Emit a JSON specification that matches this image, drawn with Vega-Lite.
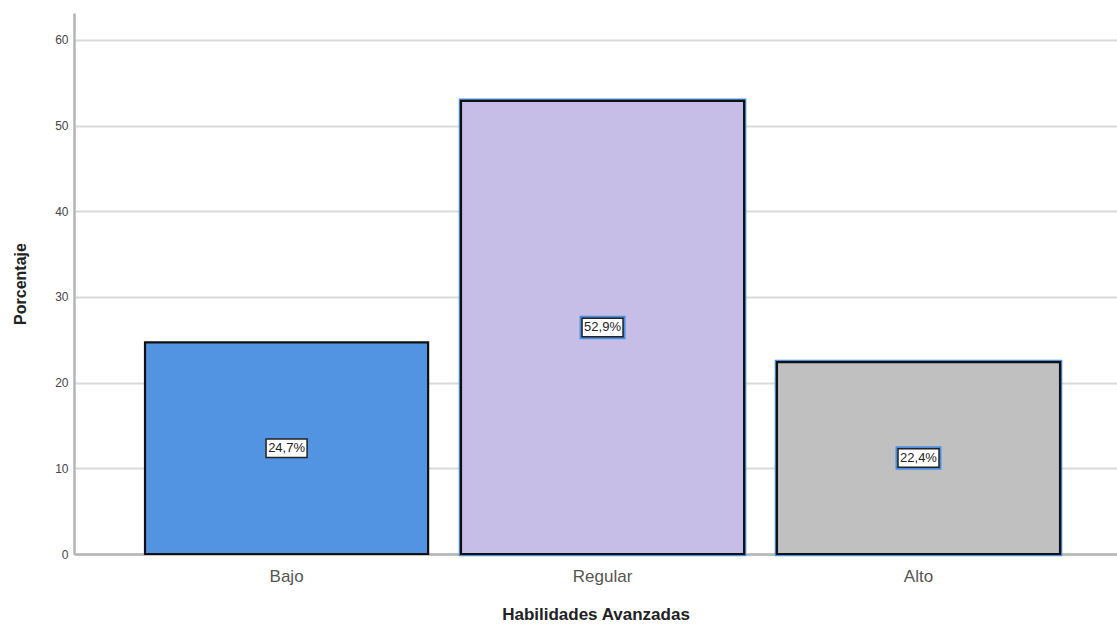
{
  "$schema": "https://vega.github.io/schema/vega-lite/v6.json",
  "autosize": {"type": "none"},
  "padding": {"left": 74, "top": 13, "right": 0, "bottom": 76},
  "width": 1043,
  "height": 541,
  "background": "white",
  "config": {"view": {"stroke": null}, "font": "Liberation Sans"},
  "data": {"values": [
    {"cat": "Bajo", "pct": 24.7, "label": "24,7%", "sel": "no"},
    {"cat": "Regular", "pct": 52.9, "label": "52,9%", "sel": "yes"},
    {"cat": "Alto", "pct": 22.4, "label": "22,4%", "sel": "yes"}
  ]},
  "transform": [{"calculate": "datum.pct / 2", "as": "mid"}],
  "encoding": {
    "x": {
      "field": "cat", "type": "nominal", "sort": ["Bajo", "Regular", "Alto"],
      "scale": {"paddingInner": 0.104, "paddingOuter": 0.2025, "align": 0.555},
      "axis": {
        "title": "Habilidades Avanzadas", "titleFontSize": 17, "titleFontWeight": "bold",
        "titleColor": "#222222", "titlePadding": 22,
        "labelAngle": 0, "labelFontSize": 17, "labelColor": "#555555", "labelPadding": 14,
        "ticks": false, "domainColor": "#b5b5b5", "domainWidth": 2.5
      }
    }
  },
  "layer": [
    {
      "mark": {"type": "bar", "stroke": "#4a8fe0", "strokeWidth": 4.5, "fill": null},
      "transform": [{"filter": "datum.sel == 'yes'"}],
      "encoding": {
        "y": {"field": "pct", "type": "quantitative"}
      }
    },
    {
      "mark": {"type": "bar", "stroke": "#111111", "strokeWidth": 2.2},
      "encoding": {
        "y": {
          "field": "pct", "type": "quantitative",
          "scale": {"domain": [0, 63.15], "nice": false, "zero": true},
          "axis": {
            "title": "Porcentaje", "titleFontSize": 16, "titleFontWeight": "bold",
            "titleColor": "#222222", "titlePadding": 26,
            "values": [0, 10, 20, 30, 40, 50, 60],
            "labelFontSize": 12, "labelColor": "#444444", "labelPadding": 6,
            "ticks": false, "domainColor": "#b5b5b5", "domainWidth": 2.5,
            "grid": true, "gridColor": "#d9d9d9", "gridWidth": 2
          }
        },
        "color": {
          "field": "cat", "type": "nominal", "legend": null,
          "scale": {"domain": ["Bajo", "Regular", "Alto"], "range": ["#5294e2", "#c6bee6", "#c0c0c0"]}
        }
      }
    },
    {
      "mark": {"type": "point", "shape": "M-1,-0.45H1V0.45H-1Z", "size": 1681, "filled": false, "stroke": "#4a8fe0", "strokeWidth": 5, "opacity": 1},
      "transform": [{"filter": "datum.sel == 'yes'"}],
      "encoding": {
        "y": {"field": "mid", "type": "quantitative"}
      }
    },
    {
      "mark": {"type": "point", "shape": "M-1,-0.45H1V0.45H-1Z", "size": 1681, "filled": true, "fill": "white", "stroke": "#222222", "strokeWidth": 1.5, "opacity": 1},
      "encoding": {
        "y": {"field": "mid", "type": "quantitative"}
      }
    },
    {
      "mark": {"type": "text", "fontSize": 13, "color": "#222222", "baseline": "middle", "align": "center"},
      "encoding": {
        "y": {"field": "mid", "type": "quantitative"},
        "text": {"field": "label"}
      }
    }
  ]
}
